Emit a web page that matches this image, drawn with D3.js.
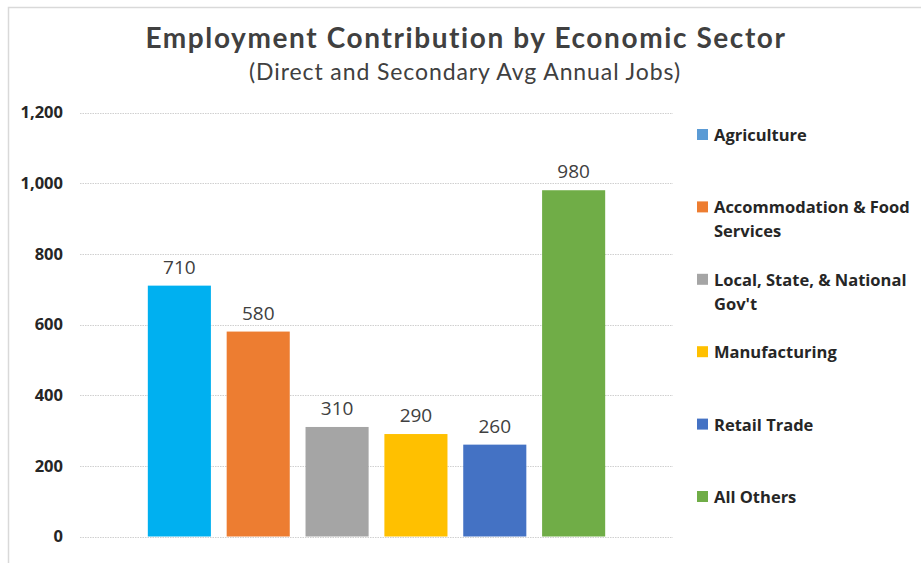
<!DOCTYPE html>
<html>
<head>
<meta charset="utf-8">
<script src="https://cdn.jsdelivr.net/npm/d3@7"></script>
<style>
  body { margin: 0; background: #fff; }
  svg { display: block; }
  .tick-lab { font-family: "Open Sans", sans-serif; font-weight: 700; font-size: 16.5px; fill: #262626; }
  .bar-lab { font-family: "Open Sans", sans-serif; font-size: 19px; fill: #404040; }
  .leg-lab { font-family: "Open Sans", sans-serif; font-weight: 700; font-size: 16.5px; fill: #262626; }
</style>
</head>
<body>
<div id="chart"></div>
<script>
// data
const sectors = ["Agriculture", "Accommodation & Food Services", "Local, State, & National Gov't",
  "Manufacturing", "Retail Trade", "All Others"];
const jobs = [710, 580, 310, 290, 260, 980];
const yTicks = [0, 200, 400, 600, 800, 1000, 1200];
// legend lines (wrapped like the original)
const legendLines = [["Agriculture"], ["Accommodation & Food", "Services"], ["Local, State, & National", "Gov't"],
  ["Manufacturing"], ["Retail Trade"], ["All Others"]];

const barColors = ["#00B0F0", "#ED7D31", "#A5A5A5", "#FFC000", "#4472C4", "#70AD47"];
const swatchColors = ["#5B9BD5", "#ED7D31", "#A5A5A5", "#FFC000", "#4472C4", "#70AD47"];

const W = 921, H = 563;
const svg = d3.select("#chart").append("svg")
  .attr("width", W)
  .attr("height", H);

// chart border (only top/left visible, rest is cropped)
svg.append("path")
  .attr("d", "M8.5," + H + "V7.5H" + W)
  .attr("fill", "none")
  .attr("stroke", "#d9d9d9")
  .attr("stroke-width", 1.5);

// title
svg.append("text")
  .attr("x", 466).attr("y", 48)
  .attr("text-anchor", "middle")
  .style("font-family", "Lato, sans-serif")
  .style("font-weight", 700)
  .style("font-size", "28px")
  .style("letter-spacing", "1.6px")
  .style("fill", "#404040")
  .text("Employment Contribution by Economic Sector");

svg.append("text")
  .attr("x", 465).attr("y", 80)
  .attr("text-anchor", "middle")
  .style("font-family", "Lato, sans-serif")
  .style("font-size", "23px")
  .style("letter-spacing", "0.9px")
  .style("fill", "#404040")
  .text("(Direct and Secondary Avg Annual Jobs)");

// scales
const x = d3.scaleBand()
  .domain(sectors)
  .range([80, 673])
  .paddingInner(0.2)
  .paddingOuter(0.86);

const y = d3.scaleLinear()
  .domain([0, 1200])
  .range([536.5, 112.5]);

// gridlines
svg.append("g")
  .selectAll("line")
  .data(yTicks)
  .join("line")
  .attr("x1", 80).attr("x2", 673)
  .attr("y1", d => Math.round(y(d)) + 0.5)
  .attr("y2", d => Math.round(y(d)) + 0.5)
  .attr("stroke", "#d0d0d0")
  .attr("stroke-width", 1)
  .attr("stroke-dasharray", "1.5,1");

// y axis labels
const yAxis = d3.axisLeft(y)
  .tickValues(yTicks)
  .tickFormat(d3.format(","))
  .tickSize(0)
  .tickPadding(0);

const yG = svg.append("g")
  .attr("transform", "translate(63,0)")
  .call(yAxis);
yG.select(".domain").remove();
yG.attr("font-family", null).attr("font-size", null);
yG.selectAll("text")
  .attr("class", "tick-lab")
  .attr("fill", null);

// bars
svg.append("g")
  .selectAll("rect")
  .data(sectors)
  .join("rect")
  .attr("x", d => x(d))
  .attr("y", (d, i) => y(jobs[i]))
  .attr("width", x.bandwidth())
  .attr("height", (d, i) => y(0) - y(jobs[i]))
  .attr("fill", (d, i) => barColors[i]);

// bar labels
svg.append("g")
  .selectAll("text")
  .data(sectors)
  .join("text")
  .attr("class", "bar-lab")
  .attr("x", d => x(d) + x.bandwidth() / 2)
  .attr("y", (d, i) => y(jobs[i]) - 12)
  .attr("text-anchor", "middle")
  .text((d, i) => d3.format(",")(jobs[i]));

// legend
const legY = d3.scalePoint()
  .domain(sectors)
  .range([141, 503]);

const leg = svg.append("g")
  .selectAll("g")
  .data(sectors)
  .join("g")
  .attr("transform", d => "translate(697," + legY(d) + ")");

leg.append("rect")
  .attr("x", 0).attr("y", -12)
  .attr("width", 11).attr("height", 11)
  .attr("fill", (d, i) => swatchColors[i]);

leg.append("text")
  .attr("class", "leg-lab")
  .attr("x", 17)
  .selectAll("tspan")
  .data((d, i) => legendLines[i])
  .join("tspan")
  .attr("x", 17)
  .attr("dy", (d, i) => i === 0 ? 0 : 24)
  .text(d => d);
</script>
</body>
</html>
